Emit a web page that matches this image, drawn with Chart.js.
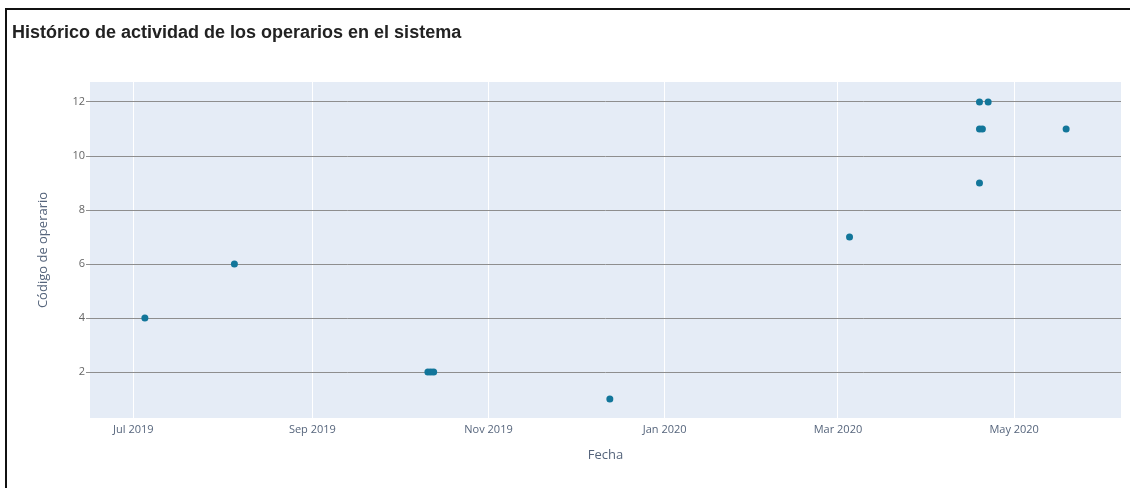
<!DOCTYPE html>
<html>
<head>
<meta charset="utf-8">
<script src="https://cdn.jsdelivr.net/npm/chart.js@4/dist/chart.umd.min.js"></script>
<style>
  html, body { margin: 0; padding: 0; background: #fff; }
  #wrap { width: 1130px; height: 488px; position: relative; }
</style>
</head>
<body>
<div id="wrap"><canvas id="chartOperarios"></canvas></div>
<script>
// fechas de actividad y codigo del operario
const fechas = [
  "2019-07-05", "2019-08-05",
  "2019-10-11", "2019-10-12", "2019-10-13",
  "2019-12-13", "2020-03-05",
  "2020-04-19", "2020-04-19", "2020-04-20",
  "2020-04-19", "2020-04-22", "2020-05-19",
];
const codigos = [4, 6, 2, 2, 2, 1, 7, 9, 11, 11, 12, 12, 11];

const xTickDates = ["2019-07-01", "2019-09-01", "2019-11-01", "2020-01-01", "2020-03-01", "2020-05-01"];
const xTickLabels = ["Jul 2019", "Sep 2019", "Nov 2019", "Jan 2020", "Mar 2020", "May 2020"];
const yTicks = [2, 4, 6, 8, 10, 12];
const xRange = ["2019-06-16", "2020-06-07"];
const yRange = [0.3, 12.74];

const ts = (s) => new Date(s).getTime();
const puntos = fechas.map((f, i) => ({ x: ts(f), y: codigos[i] }));

// fondo del area y marco del lienzo
const fondo = {
  id: "fondo",
  beforeDraw(chart) {
    const { ctx, chartArea: a } = chart;
    ctx.save();
    ctx.fillStyle = "#fff";
    ctx.fillRect(0, 0, chart.width, chart.height);
    ctx.fillStyle = "#e5ecf6";
    ctx.fillRect(a.left, a.top, a.right - a.left, a.bottom - a.top);
    ctx.strokeStyle = "#111";
    ctx.lineWidth = 2;
    ctx.beginPath();
    ctx.moveTo(6, chart.height);
    ctx.lineTo(6, 9);
    ctx.lineTo(chart.width, 9);
    ctx.stroke();
    ctx.restore();
  },
};

new Chart(document.getElementById("chartOperarios").getContext("2d"), {
  type: "scatter",
  data: {
    datasets: [
      {
        label: "Operario",
        data: puntos,
        backgroundColor: "#12769a",
        borderWidth: 0,
        pointRadius: 3.5,
      },
    ],
  },
  options: {
    responsive: true,
    maintainAspectRatio: false,
    animation: false,
    layout: { padding: { left: 12, right: 9, top: 0, bottom: 0 } },
    plugins: {
      legend: { display: false },
      tooltip: { enabled: false },
      title: {
        display: true,
        text: "Histórico de actividad de los operarios en el sistema",
        align: "start",
        color: "#222",
        font: { family: "'Liberation Sans', Arial", size: 18, weight: "bold" },
        padding: { top: 22.2, bottom: 38.2 },
      },
    },
    scales: {
      x: {
        type: "linear",
        min: ts(xRange[0]),
        max: ts(xRange[1]),
        afterFit: (s) => { s.height = 70; },
        afterBuildTicks: (s) => { s.ticks = xTickDates.map((d) => ({ value: ts(d) })); },
        ticks: {
          autoSkip: false,
          maxRotation: 0,
          padding: 5,
          color: "#56657c",
          font: { family: "'Open Sans'", size: 11 },
          callback: (v, i) => xTickLabels[i],
        },
        grid: { color: "#ffffff", lineWidth: 1, drawTicks: false },
        border: { display: false },
        title: {
          display: true,
          text: "Fecha",
          color: "#56657c",
          font: { family: "'Open Sans'", size: 13 },
          padding: { top: 0, bottom: 25 },
        },
      },
      y: {
        min: yRange[0],
        max: yRange[1],
        afterFit: (s) => { s.width = 78; },
        afterBuildTicks: (s) => { s.ticks = yTicks.map((v) => ({ value: v })); },
        ticks: {
          padding: 1,
          color: "#666",
          font: { family: "'Open Sans'", size: 11 },
        },
        grid: { color: "#8e8e8e", lineWidth: 1, tickLength: 4 },
        border: { display: false },
        title: {
          display: true,
          text: "Código de operario",
          color: "#56657c",
          font: { family: "'Open Sans'", size: 13 },
          padding: { top: 23, bottom: 0 },
        },
      },
    },
  },
  plugins: [fondo],
});
</script>
</body>
</html>
